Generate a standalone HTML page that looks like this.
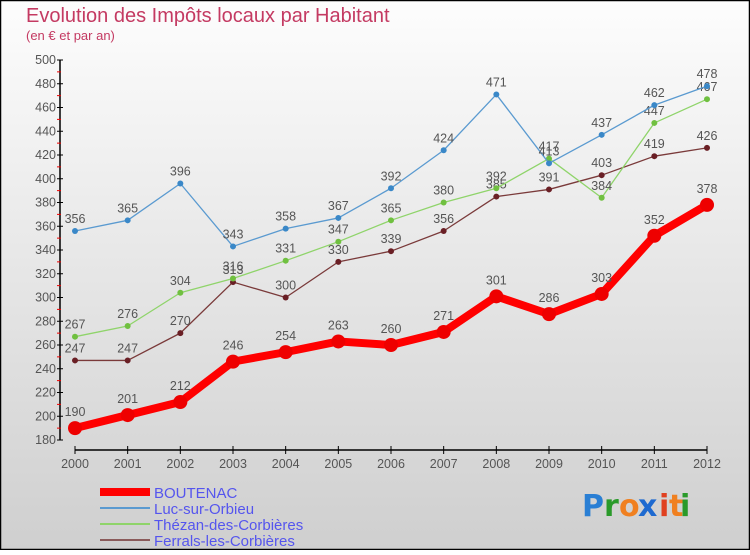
<!DOCTYPE html>
<html><head><meta charset="utf-8"><style>
body{margin:0;width:750px;height:550px;overflow:hidden;font-family:"Liberation Sans",sans-serif}
</style></head><body>
<svg width="750" height="550" xmlns="http://www.w3.org/2000/svg">
<defs><linearGradient id="bg" x1="0" y1="0" x2="0" y2="1"><stop offset="0" stop-color="#fdfdfd"/><stop offset="1" stop-color="#cfcfcf"/></linearGradient></defs>
<rect x="0.5" y="0.5" width="749" height="549" fill="url(#bg)" stroke="#000" stroke-width="1.5"/>
<text x="26" y="22" font-size="20" fill="#c43a62">Evolution des Impôts locaux par Habitant</text>
<text x="26" y="40" font-size="13" fill="#c43a62">(en € et par an)</text>
<g id="axes"></g>
<g id="series"></g>
<g id="legend"></g>
<g font-size="30" font-weight="bold" font-family="'DejaVu Sans',sans-serif">
<text x="582" y="516" fill="#2a7fd4">P</text><text x="604" y="516" fill="#2a9a2a">r</text><text x="619" y="516" fill="#f08020">o</text><text x="638" y="516" fill="#1e6ad0">x</text><text x="659" y="516" fill="#e04020">i</text><text x="669" y="516" fill="#f08020">t</text><text x="680" y="516" fill="#2a9a2a">i</text>
</g>
</svg>
<script>
const years=[2000,2001,2002,2003,2004,2005,2006,2007,2008,2009,2010,2011,2012];
const boutenac=[190,201,212,246,254,263,260,271,301,286,303,352,378];
const luc=[356,365,396,343,358,367,392,424,471,413,437,462,478];
const thezan=[267,276,304,316,331,347,365,380,392,417,384,447,467];
const ferrals=[247,247,270,313,300,330,339,356,385,391,403,419,426];
const yTicks=[180,200,220,240,260,280,300,320,340,360,380,400,420,440,460,480,500];
const NS="http://www.w3.org/2000/svg";
const X=i=>75+i*(707-75)/(years.length-1);
const Y=v=>440-(v-180)*380/320;
function mk(t,a,p){const e=document.createElementNS(NS,t);for(const k in a)e.setAttribute(k,a[k]);p.appendChild(e);return e;}
const ax=document.getElementById('axes');
const yl=mk('line',{x1:60,y1:60,x2:60,y2:440,stroke:'#000','stroke-width':1.5},ax);


const xl=mk('line',{x1:75,y1:450,x2:707,y2:450,stroke:'#000','stroke-width':1.5},ax);


yTicks.forEach(v=>{
 mk('line',{x1:57,y1:Y(v),x2:63,y2:Y(v),stroke:'#000'},ax);
 if(v<500)mk('line',{x1:57,y1:Y(v+10),x2:61,y2:Y(v+10),stroke:'#e00'},ax);
 const t=mk('text',{x:56,y:Y(v)+4,'text-anchor':'end','font-size':12.5,fill:'#555'},ax);t.textContent=v;
 
 
});
years.forEach((y,i)=>{
 mk('line',{x1:X(i),y1:446,x2:X(i),y2:454,stroke:'#000'},ax);
 const t=mk('text',{x:X(i),y:468,'text-anchor':'middle','font-size':12.5,fill:'#555'},ax);t.textContent=y;
 
 
});
const sg=document.getElementById('series');
const defs=[
 {d:ferrals,c:'#7a3a3a',dot:'#6a1f25',w:1.3,r:3,n:'ferrals'},
 {d:thezan,c:'#8fd46a',dot:'#70c040',w:1.3,r:3,n:'thezan'},
 {d:luc,c:'#5a9ad0',dot:'#3a88c8',w:1.3,r:3,n:'luc'},
 {d:boutenac,c:'#ff0000',dot:'#ee0000',w:8,r:7,n:'boutenac'}];
defs.forEach(s=>{
 const p=mk('polyline',{points:s.d.map((v,i)=>X(i)+','+Y(v)).join(' '),fill:'none',stroke:s.c,'stroke-width':s.w,'stroke-linejoin':'round'},sg);
 
 
 s.d.forEach((v,i)=>{
  const c=mk('circle',{cx:X(i),cy:Y(v),r:s.r,fill:s.dot},sg);
  
  
  const t=mk('text',{x:X(i),y:Y(v)-(s.r+5),'text-anchor':'middle','font-size':12.5,fill:'#555'},sg);t.textContent=v;
  
  
 });
});
const lg=document.getElementById('legend');
const leg=[['BOUTENAC','#ff0000',8],['Luc-sur-Orbieu','#5a9ad0',2],['Thézan-des-Corbières','#8fd46a',2],['Ferrals-les-Corbières','#8a5a5a',2]];
leg.forEach((l,i)=>{
 const yy=492+i*16;
 mk('line',{x1:100,y1:yy,x2:150,y2:yy,stroke:l[1],'stroke-width':l[2]},lg);
 const t=mk('text',{x:154,y:yy+6,'font-size':15,fill:'#5555ee'},lg);t.textContent=l[0];
 
 
});
</script>
</body></html>
